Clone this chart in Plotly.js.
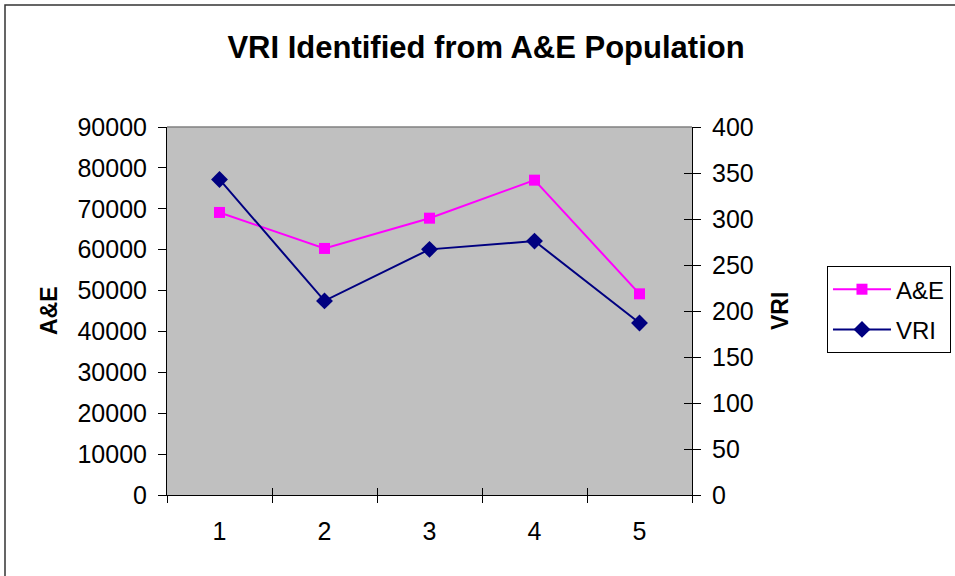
<!DOCTYPE html>
<html>
<head>
<meta charset="utf-8">
<script src="https://cdn.plot.ly/plotly-3.0.1.min.js"></script>
<style>
html,body{margin:0;padding:0;background:#fff;}
#chart{width:955px;height:576px;}
</style>
</head>
<body>
<div id="chart"></div>
<script>
var categories = ['1', '2', '3', '4', '5'];
var aeValues = [69100, 60300, 67700, 77000, 49200];
var vriValues = [343, 211, 267, 276, 187];
var seriesNames = ['A&E', 'VRI'];
var titleText = 'VRI Identified from A&E Population';
var leftAxisTitle = 'A&E';
var rightAxisTitle = 'VRI';

var FONT = 'Arial, "Liberation Sans", sans-serif';

var traces = [
  {
    x: categories, y: aeValues, name: seriesNames[0], type: 'scatter', mode: 'lines+markers',
    xaxis: 'x', yaxis: 'y', legendgroup: 'a',
    line: {color: '#FF00FF', width: 2},
    marker: {symbol: 'square', size: 11, color: '#FF00FF'}
  },
  {
    x: categories, y: vriValues, name: seriesNames[1], type: 'scatter', mode: 'lines+markers',
    xaxis: 'x', yaxis: 'y2', legendgroup: 'b',
    line: {color: '#000080', width: 2},
    marker: {symbol: 'diamond', size: 13, color: '#000080'}
  },
  {
    // transparent copy so the overlay axes (crossing tick marks) get drawn
    x: categories, y: vriValues, type: 'scatter', mode: 'lines',
    xaxis: 'x2', yaxis: 'y3', showlegend: false, hoverinfo: 'skip',
    line: {color: 'rgba(0,0,0,0)', width: 0}
  }
];

var tickFont = {family: FONT, size: 25, color: '#000'};

var layout = {
  width: 955, height: 576,
  margin: {l: 167, r: 263, t: 127, b: 81, autoexpand: false},
  paper_bgcolor: '#FFFFFF',
  plot_bgcolor: '#C0C0C0',
  font: {family: FONT, color: '#000', size: 25},
  title: {
    text: '<b>' + titleText + '</b>',
    font: {family: FONT, size: 31, color: '#000'},
    x: 486 / 955, xref: 'container', xanchor: 'center',
    y: 1 - 47 / 576, yref: 'container', yanchor: 'middle'
  },
  showlegend: true,
  legend: {
    x: 1.2571, y: 0.622, xanchor: 'left', yanchor: 'top',
    bordercolor: '#000', borderwidth: 1, bgcolor: '#fff',
    font: {family: FONT, size: 24, color: '#000'},
    traceorder: 'grouped', tracegroupgap: 6,
    itemwidth: 58
  },
  xaxis: {
    type: 'category', range: [-0.5, 4.5], tickson: 'boundaries',
    showgrid: false, zeroline: false,
    showline: true, linecolor: '#000', linewidth: 1,
    ticks: 'outside', ticklen: 7, tickcolor: '#000', tickwidth: 1,
    ticklabelstandoff: 14,
    tickfont: tickFont
  },
  xaxis2: {
    overlaying: 'x', anchor: 'y', type: 'category', range: [-0.5, 4.5], tickson: 'boundaries',
    ticks: 'inside', ticklen: 7, tickcolor: '#000', tickwidth: 1,
    showticklabels: false, showgrid: false, zeroline: false, showline: false
  },
  yaxis: {
    range: [0, 90000], tickmode: 'linear', tick0: 0, dtick: 10000, tickformat: 'd',
    showgrid: false, zeroline: false,
    showline: true, linecolor: '#000', linewidth: 1,
    ticks: 'outside', ticklen: 8, tickcolor: '#000', tickwidth: 1,
    ticklabelstandoff: 6,
    tickfont: tickFont
  },
  yaxis2: {
    overlaying: 'y', side: 'right', anchor: 'x',
    range: [0, 400], tickmode: 'linear', tick0: 0, dtick: 50, tickformat: 'd',
    showgrid: false, zeroline: false,
    showline: true, linecolor: '#000', linewidth: 1,
    ticks: 'outside', ticklen: 8, tickcolor: '#000', tickwidth: 1,
    ticklabelstandoff: 6,
    tickfont: tickFont
  },
  yaxis3: {
    overlaying: 'y', side: 'right', anchor: 'x',
    range: [0, 400], tickmode: 'linear', tick0: 0, dtick: 50,
    ticks: 'inside', ticklen: 8, tickcolor: '#000', tickwidth: 1,
    showticklabels: false, showgrid: false, zeroline: false, showline: false
  },
  shapes: [
    {type: 'rect', xref: 'paper', yref: 'paper',
     x0: (5 - 167) / 525, x1: (965 - 167) / 525, y0: (495 - 585) / 368, y1: (495 - 5) / 368,
     line: {color: '#333', width: 1.5}, fillcolor: 'rgba(0,0,0,0)', layer: 'below'},
    {type: 'line', xref: 'paper', yref: 'paper', x0: 0, x1: 1, y0: 1, y1: 1,
     line: {color: '#808080', width: 1.5}}
  ],
  annotations: [
    {text: '<b>' + leftAxisTitle + '</b>', xref: 'paper', yref: 'paper',
     x: (49 - 167) / 525, y: 0.5, textangle: -90, showarrow: false,
     xanchor: 'center', yanchor: 'middle',
     font: {family: FONT, size: 23, color: '#000'}},
    {text: '<b>' + rightAxisTitle + '</b>', xref: 'paper', yref: 'paper',
     x: (780 - 167) / 525, y: 0.5, textangle: -90, showarrow: false,
     xanchor: 'center', yanchor: 'middle',
     font: {family: FONT, size: 23, color: '#000'}}
  ]
};

Plotly.newPlot('chart', traces, layout, {displayModeBar: false, staticPlot: true});
</script>
</body>
</html>
